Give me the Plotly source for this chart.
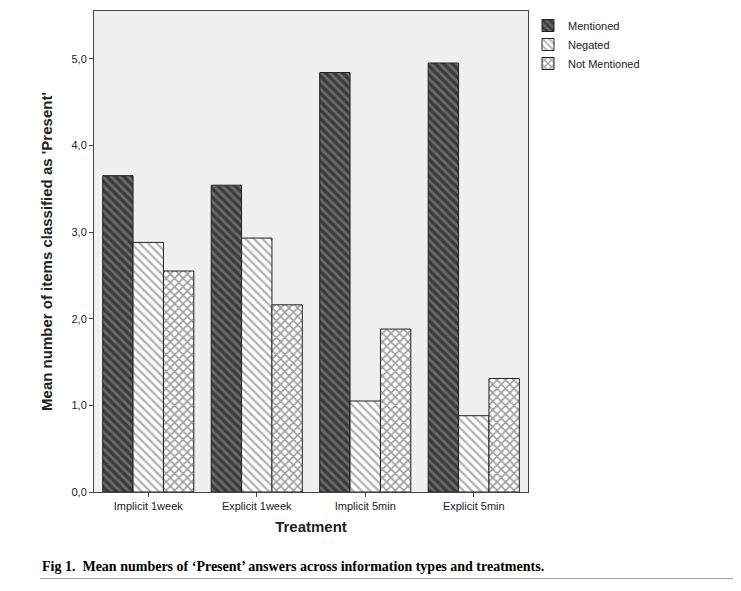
import plotly.graph_objects as go

categories = ["Implicit 1week", "Explicit 1week", "Implicit 5min", "Explicit 5min"]
mentioned = [3.65, 3.54, 4.84, 4.95]
negated = [2.88, 2.93, 1.05, 0.88]
not_mentioned = [2.55, 2.16, 1.88, 1.31]
y_ticks = [0, 1, 2, 3, 4, 5]
y_labels = ["0,0", "1,0", "2,0", "3,0", "4,0", "5,0"]

fig = go.Figure()
series = [
    ("Mentioned", mentioned, dict(shape="\\", bgcolor="#6a6a6a", fgcolor="#0a0a0a", size=6, solidity=0.55)),
    ("Negated", negated, dict(shape="\\", bgcolor="white", fgcolor="#6a6a6a", size=6, solidity=0.4)),
    ("Not Mentioned", not_mentioned, dict(shape="x", bgcolor="white", fgcolor="#3a3a3a", size=6, solidity=0.45)),
]
for name, vals, pat in series:
    fig.add_trace(go.Bar(
        x=categories, y=vals, name=name,
        marker=dict(color=pat["bgcolor"], pattern=pat, line=dict(color="#222222", width=1)),
    ))

fig.update_layout(
    width=741, height=591,
    barmode="group", bargap=0.16, bargroupgap=0,
    plot_bgcolor="#f0f0f0", paper_bgcolor="white",
    margin=dict(l=86, r=221, t=3, b=107),
    font=dict(family="Liberation Sans", size=11, color="#222222"),
    legend=dict(x=1.0, y=1.0, xanchor="left", yanchor="top", font=dict(size=11),
                bgcolor="rgba(0,0,0,0)", traceorder="normal", itemwidth=30, tracegroupgap=0,
                borderwidth=0),
    xaxis=dict(title=dict(text="<b>Treatment</b>", font=dict(size=15), standoff=10),
               showline=True, linecolor="#444444", mirror=True, ticks="outside",
               ticklen=4, tickcolor="#444444"),
    yaxis=dict(title=dict(text="<b>Mean number of items classified as 'Present'</b>", font=dict(size=15)),
               range=[0, 5.55], tickvals=y_ticks, ticktext=y_labels, showgrid=False,
               showline=True, linecolor="#444444", mirror=True, ticks="outside",
               ticklen=4, tickcolor="#444444", zeroline=False),
)
fig.add_annotation(text="<b>Fig 1.  Mean numbers of ‘Present’ answers across information types and treatments.</b>",
                   xref="paper", yref="paper", x=-0.125, y=-0.135, xanchor="left", yanchor="top",
                   showarrow=False, font=dict(family="Liberation Serif", size=14, color="black"))
fig.add_shape(type="line", xref="paper", yref="paper", x0=-0.125, x1=1.49, y0=-0.18, y1=-0.18,
              line=dict(color="#999999", width=1))
fig.write_html("out.html")
